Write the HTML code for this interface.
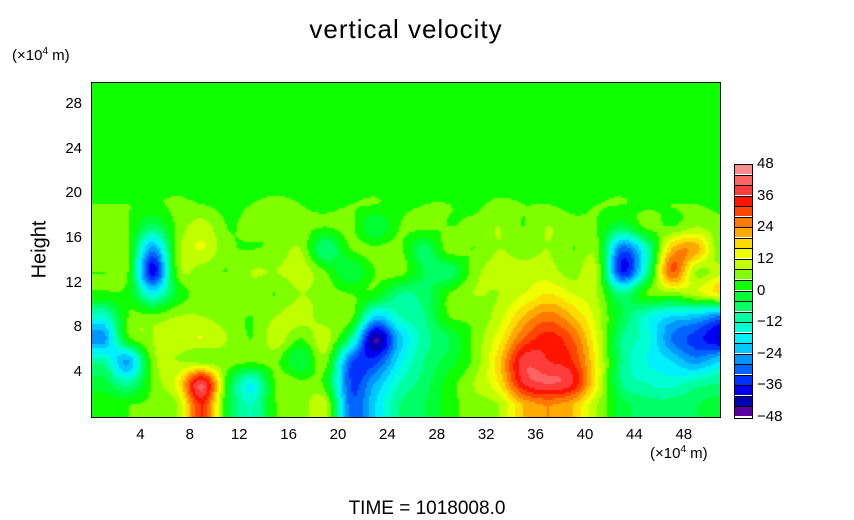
<!DOCTYPE html>
<html><head><meta charset="utf-8"><style>
body{margin:0;background:#fff;width:854px;height:519px;overflow:hidden;position:relative;font-family:"Liberation Sans",sans-serif;}
.t{position:absolute;color:#000;white-space:nowrap;}
</style></head><body>
<div class="t" style="left:0;width:812px;text-align:center;top:14px;font-size:26px;letter-spacing:1px">vertical velocity</div>
<div class="t" style="left:12px;top:46px;font-size:15px">(×10<sup style="font-size:10px">4</sup> m)</div>
<div class="t" style="left:650px;top:444px;font-size:15px">(×10<sup style="font-size:10px">4</sup> m)</div>
<div class="t" style="left:8px;top:238px;font-size:20px;transform:rotate(-90deg);transform-origin:center;width:64px;text-align:center">Height</div>
<div class="t" style="left:0;width:854px;text-align:center;top:498px;font-size:19px">TIME = 1018008.0</div>
<canvas id="cv" width="629" height="335" style="position:absolute;left:91px;top:82px"></canvas>
<div style="position:absolute;left:91px;top:82px;width:628px;height:334px;border:1px solid #000"></div>
<div id="labels"></div>
<script>
const xTicks=[4,8,12,16,20,24,28,32,36,40,44,48];
const yTicks=[4,8,12,16,20,24,28];
const cbLabels=[48,36,24,12,0,-12,-24,-36,-48];
const levels=[-48,-44,-40,-36,-32,-28,-24,-20,-16,-12,-8,-4,0,4,8,12,16,20,24,28,32,36,40,44,48];
const levelColors=["#5a00a0","#0000b4","#0000f0","#0032ff","#0064ff","#0096ff","#00c8ff","#00f0ff","#00ffd2","#00ffa0","#00ff64","#00ff32","#10ff00","#80ff00","#c0ff00","#f0ff00","#ffdc00","#ffaa00","#ff7800","#ff4600","#ff1400","#ff3c3c","#ff6464","#ff8c8c"];
const gridX=[1,3,5,7,9,11,13,15,17,19,21,23,25,27,29,31,33,35,37,39,41,43,45,47,49,51];
const gridY=[29,27,25,23,21,19,17,15,13,11,9,7,5,3,1];
const row29=[2,2,2,2,2,2,2,2,2,2,2,2,2,2,2,2,2,2,2,2,2,2,2,2,2,2];
const row27=[2,2,2,2,2,2,2,2,2,2,2,2,2,2,2,2,2,2,2,2,2,2,2,2,2,2];
const row25=[2,2,2,2,2,2,2,2,2,2,2,2,2,2,2,2,2,2,2,2,2,2,2,2,2,2];
const row23=[2,2,2,2,2,2,2,2,2,2,2,2,2,2,2,2,2,2,2,2,2,2,2,2,2,2];
const row21=[2,2,2,2,2,2,2,2,2,2,2,2,2,2,2,2,2,2,2,2,2,2,2,2,2,2];
const row19=[4,4,3,5,4,3,4,5,4,3,4,4,3,4,4,3,5,4,4,3,4,4,3,4,4,3];
const row17=[5,4,-6,5,10,4,5,4,5,4,5,-4,4,5,4,5,8,4,8,5,4,-4,5,4,8,5];
const row15=[5,4,-26,6,12,5,4,5,8,-8,4,5,5,-6,6,4,8,6,8,4,5,-30,-12,20,22,4];
const row13=[4,4,-38,5,6,4,8,8,10,4,-4,4,6,-4,-6,6,10,10,10,6,8,-36,-10,28,8,10];
const row11=[3,2,-16,0,6,6,6,4,8,6,4,2,-8,-6,4,8,8,12,16,12,8,-8,4,6,10,16];
const row9=[-14,4,5,8,8,6,4,8,10,6,6,-20,-12,-8,4,5,10,20,26,20,10,-4,-14,-20,-22,-28];
const row7=[-26,2,8,10,12,8,4,10,4,10,-8,-44,-22,-10,-4,5,14,28,34,28,12,-8,-14,-28,-34,-40];
const row5=[-10,-24,6,8,6,6,5,5,-4,6,-30,-34,-18,-8,-2,5,18,38,36,32,14,-8,-16,-20,-26,-20];
const row3=[-2,-10,5,14,40,2,-16,5,5,2,-32,-24,-12,-6,2,8,16,36,40,36,14,-8,-12,-14,-10,-8];
const row1=[2,4,5,8,32,0,-12,4,5,10,-30,-20,-8,-4,2,6,8,20,24,20,8,-2,-6,-6,-4,-2];
const grid=[row29,row27,row25,row23,row21,row19,row17,row15,row13,row11,row9,row7,row5,row3,row1];

const PX0=91,PY0=416.7,SX=12.35,SY=11.17;
const xs=v=>PX0+SX*v, ys=v=>PY0-SY*v;
function cr(p0,p1,p2,p3,t){return 0.5*((2*p1)+(-p0+p2)*t+(2*p0-5*p1+4*p2-p3)*t*t+(-p0+3*p1-3*p2+p3)*t*t*t);}
function g(j,i){j=Math.max(0,Math.min(gridY.length-1,j));i=Math.max(0,Math.min(gridX.length-1,i));return grid[j][i];}
function val(x,y){
  let fx=(x-gridX[0])/2, fy=(gridY[0]-y)/2;
  fx=Math.max(0,Math.min(gridX.length-1.0001,fx)); fy=Math.max(0,Math.min(gridY.length-1.0001,fy));
  const i=Math.floor(fx), j=Math.floor(fy), a=fx-i, b=fy-j;
  const r=[];
  for(let k=-1;k<=2;k++) r.push(cr(g(j+k,i-1),g(j+k,i),g(j+k,i+1),g(j+k,i+2),a));
  return cr(r[0],r[1],r[2],r[3],b);
}
function color(v){
  for(let k=0;k<levelColors.length;k++){ if(v<levels[k+1]) return levelColors[k]; }
  return levelColors[levelColors.length-1];
}
const cv=document.getElementById('cv'), ctx=cv.getContext('2d');
for(let py=0;py<335;py+=2){ for(let px=0;px<629;px+=2){
  const x=(px+1)/SX, y=(PY0-(py+82+1))/SY;
  ctx.fillStyle=color(val(x,y)); ctx.fillRect(px,py,2,2);
}}
const L=document.getElementById('labels');
function lab(txt,l,t,name,extra){const d=document.createElement('div');d.className='t';d.textContent=txt;d.style.cssText+='left:'+l+'px;top:'+t+'px;font-size:15px;'+(extra||'');


L.appendChild(d);}
xTicks.forEach(v=>lab(String(v),xs(v)-15,426,'x-tick-label','width:30px;text-align:center'));
yTicks.forEach(v=>lab(String(v),40,ys(v)-9,'y-tick-label','width:42px;text-align:right'));
const cbTop=164,cbBot=417,cbH=(cbBot-cbTop)/24;
for(let k=0;k<24;k++){const d=document.createElement('div');
d.style.cssText='position:absolute;left:735px;width:17px;top:'+(cbBot-(k+1)*cbH)+'px;height:'+(cbH-1.5)+'px;background:'+levelColors[k]+';border-top:1.5px solid #000';


L.appendChild(d);}
const fr=document.createElement('div');fr.style.cssText='position:absolute;left:734px;top:'+cbTop+'px;width:17px;height:'+(cbBot-cbTop)+'px;border:1px solid #000';


L.appendChild(fr);
cbLabels.forEach(v=>{const y=cbBot-(v+48)/96*(cbBot-cbTop);lab(v<0?'\u2212'+(-v):String(v),757,y-9,'colorbar-label');});
</script>
</body></html>
